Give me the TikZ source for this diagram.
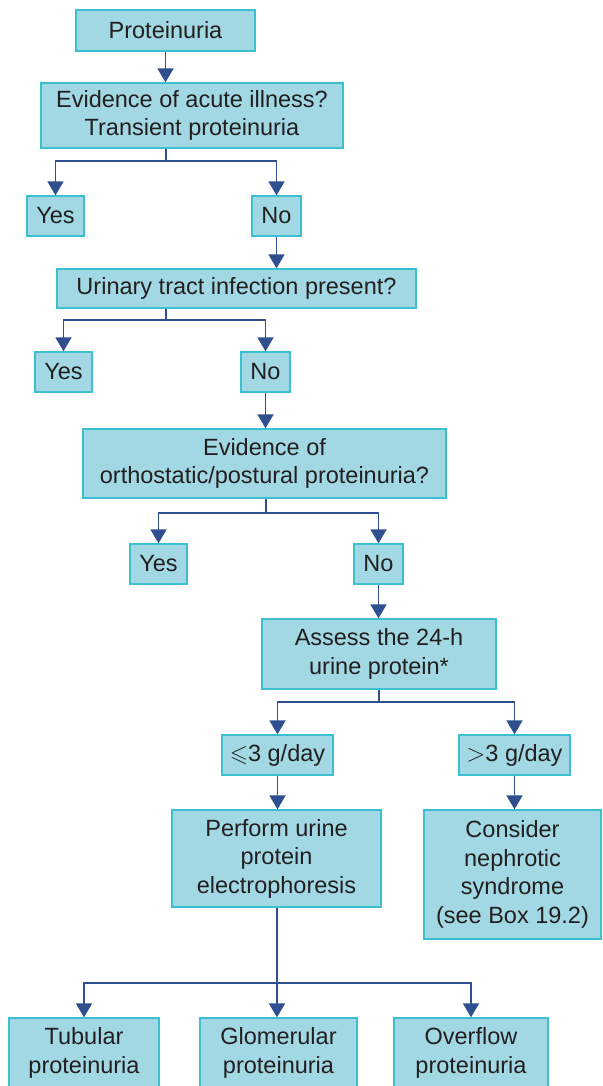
\documentclass[tikz,border=0pt]{standalone}
\usepackage{amssymb}
\usepackage{fontspec}
\setmainfont{Liberation Sans}
\usetikzlibrary{arrows.meta}
\definecolor{boxfill}{HTML}{A1D8E3}
\definecolor{boxline}{HTML}{3DBFD2}
\definecolor{arrowc}{HTML}{2F4F8F}
\definecolor{txt}{HTML}{231F20}
\begin{document}
\begin{tikzpicture}[x=1pt,y=-1pt,
  box/.style={draw=boxline, fill=boxfill, line width=1.3pt, text=txt, align=center,
    inner sep=0pt, font=\fontsize{23.5}{28.5}\selectfont},
  arr/.style={draw=arrowc, line width=1.8pt, -{Triangle[width=16pt 0,length=14pt 0]}},
  ln/.style={draw=arrowc, line width=1.8pt}]
\useasboundingbox (0,0) rectangle (602,1086);
\clip (0,0) rectangle (602,1086);
% boxes
\node[box, minimum width=179pt, minimum height=41pt] (P0) at (165.5,30.5) {Proteinuria};
\node[box, minimum width=302pt, minimum height=65pt] (A) at (192,115.5) {Evidence of acute illness?\\Transient proteinuria};
\node[box, minimum width=57pt, minimum height=40pt] (Y1) at (55.5,216) {Yes};
\node[box, minimum width=49pt, minimum height=40pt] (N1) at (276.5,216) {No};
\node[box, minimum width=359pt, minimum height=39pt] (U) at (236.5,288.5) {Urinary tract infection present?};
\node[box, minimum width=57pt, minimum height=40pt] (Y2) at (63.5,372) {Yes};
\node[box, minimum width=49pt, minimum height=40pt] (N2) at (265.5,372) {No};
\node[box, minimum width=363pt, minimum height=69pt] (O) at (264.5,463.5) {Evidence of\\orthostatic/postural proteinuria?};
\node[box, minimum width=57pt, minimum height=40pt] (Y3) at (158.5,564) {Yes};
\node[box, minimum width=49pt, minimum height=40pt] (N3) at (378.5,564) {No};
\node[box, minimum width=234pt, minimum height=70pt] (S) at (379,654) {Assess the 24-h\\urine protein*};
\node[box, minimum width=111pt, minimum height=40pt] (L) at (277.5,755) {$\leqslant$3 g/day};
\node[box, minimum width=111pt, minimum height=40pt] (G) at (514.5,755) {$>$3 g/day};
\node[box, minimum width=209pt, minimum height=97pt] (E) at (276.5,858.5) {Perform urine\\protein\\electrophoresis};
\node[box, minimum width=177pt, minimum height=129pt] (C) at (512.5,874.5) {Consider\\nephrotic\\syndrome\\(see Box 19.2)};
\node[box, minimum width=150pt, minimum height=70pt] (T) at (84,1053) {Tubular\\proteinuria};
\node[box, minimum width=157pt, minimum height=70pt] (Gl) at (278.5,1053) {Glomerular\\proteinuria};
\node[box, minimum width=154pt, minimum height=70pt] (Ov) at (471,1053) {Overflow\\proteinuria};
% junctions
\coordinate (j1) at (166,161);
\coordinate (j2) at (166,320);
\coordinate (j3) at (266,513);
\coordinate (j4) at (379,702);
\coordinate (j5) at (277,983);
% connectors
\draw[arr] (P0.south) -- (P0.south |- A.north);
\draw[ln] (j1 |- A.south) -- (j1);
\draw[arr] (j1) -| (Y1.north);
\draw[arr] (j1) -| (N1.north);
\draw[arr] (N1.south) -- (N1.south |- U.north);
\draw[ln] (j2 |- U.south) -- (j2);
\draw[arr] (j2) -| (Y2.north);
\draw[arr] (j2) -| (N2.north);
\draw[arr] (N2.south) -- (N2.south |- O.north);
\draw[ln] (j3 |- O.south) -- (j3);
\draw[arr] (j3) -| (Y3.north);
\draw[arr] (j3) -| (N3.north);
\draw[arr] (N3.south) -- (N3.south |- S.north);
\draw[ln] (j4 |- S.south) -- (j4);
\draw[arr] (j4) -| (L.north);
\draw[arr] (j4) -| (G.north);
\draw[arr] (L.south) -- (L.south |- E.north);
\draw[arr] (G.south) -- (G.south |- C.north);
\draw[ln] (j5 |- E.south) -- (j5);
\draw[arr] (j5) -| (T.north);
\draw[arr] (j5) -- (j5 |- Gl.north);
\draw[arr] (j5) -| (Ov.north);
\end{tikzpicture}
\end{document}
